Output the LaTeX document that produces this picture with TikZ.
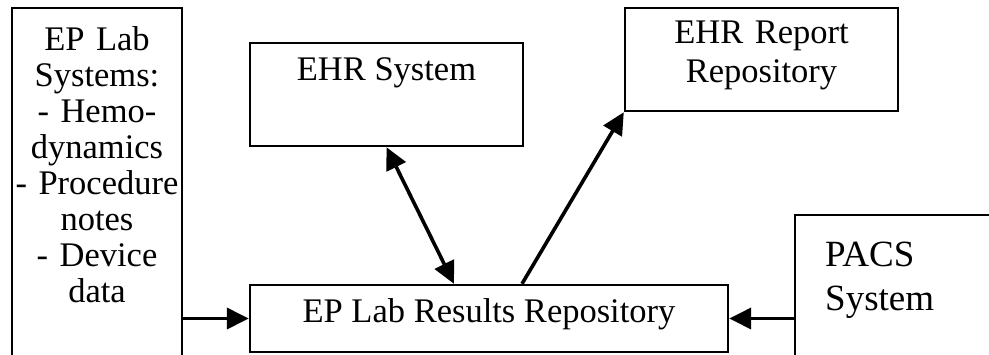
\documentclass[tikz,border=0pt]{standalone}
\usepackage{fontspec}
\setmainfont{Liberation Serif}
\usetikzlibrary{arrows.meta}

\tikzset{
  box/.style={draw, rectangle, line width=2.4pt, inner sep=0pt},
  txt/.style={inner sep=0pt, font={\fontsize{34.5}{36}\selectfont}},
  bigtxt/.style={inner sep=0pt, font={\fontsize{37}{44}\selectfont}},
  tip/.tip={Triangle[length=22pt,width=21pt]},
  arr/.style={line width=3.6pt, -tip},
  dblarr/.style={line width=3.6pt, tip-tip},
}

\begin{document}
\begin{tikzpicture}[x=1pt,y=-1pt]
  \clip (0,0) rectangle (989,354);
  \fill[white] (0,0) rectangle (989,354);

  % boxes
  \node[box, minimum width=170pt, minimum height=392pt] (eplab) at (97,204) {};
  \node[box, minimum width=273pt, minimum height=103pt] (ehr) at (386.5,94.5) {};
  \node[box, minimum width=273pt, minimum height=103pt] (report) at (761.5,59.5) {};
  \node[box, minimum width=478pt, minimum height=67pt] (results) at (489,318.5) {};
  \node[box, minimum width=215pt, minimum height=165pt] (pacs) at (902.5,297.5) {};

  % texts
  \node[txt, text width=170pt, align=center, anchor=base] (eplabtext) at (97,50)
    {EP Lab\\Systems:\\- Hemo-\\dynamics\\- Procedure\\notes\\- Device\\data};
  \node[txt, anchor=base] (ehrtext) at (386.5,80) {EHR System};
  \node[txt, font={\fontsize{34.5}{38.5}\selectfont}, text width=273pt, align=center,
        anchor=base] (reporttext) at (761.5,43.5)
    {EHR Report\\Repository};
  \node[txt, anchor=base] (resultstext) at (489,322) {EP Lab Results Repository};
  \node[bigtxt, text width=160pt, align=left, anchor=base west] (pacstext) at (825,266)
    {PACS\\System};

  % connectors
  \draw[arr] (eplab.east |- results.west) -- (results.west);
  \draw[arr] (pacs.west |- results.east) -- (results.east);
  \draw[dblarr] ([xshift=-35pt]results.north) -- (ehr.south);
  \draw[arr] ([xshift=33pt]results.north) -- (report.south west);
\end{tikzpicture}
\end{document}
